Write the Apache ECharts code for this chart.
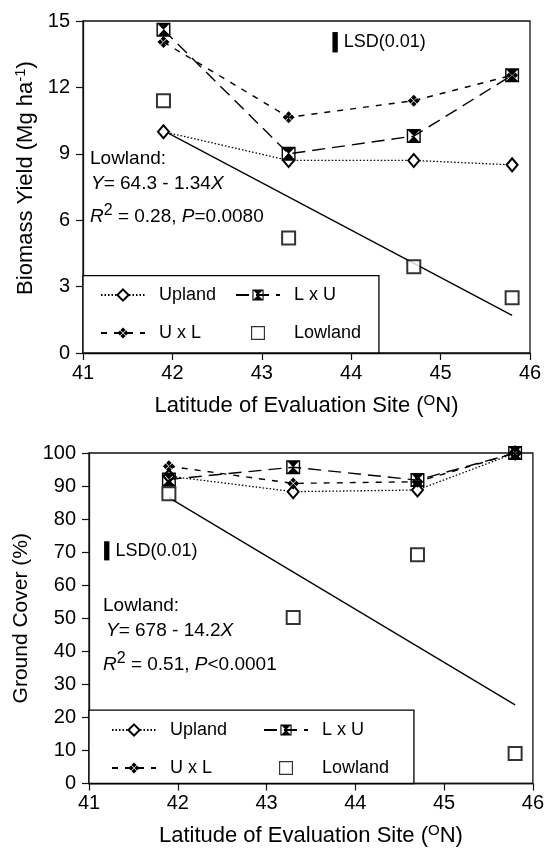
<!DOCTYPE html>
<html>
<head>
<meta charset="utf-8">
<script src="https://cdn.jsdelivr.net/npm/echarts@6/dist/echarts.min.js"></script>
<style>
  html, body { margin: 0; padding: 0; background: #fff; }
  #chart { width: 547px; height: 848px; }
</style>
</head>
<body>
<div id="chart"></div>
<script>
// site latitudes (deg N)
var lat = [41.9, 43.3, 44.7, 45.8];

// biomass yield (Mg/ha)
var yieldUpland = [10.0, 8.7, 8.7, 8.5];
var yieldLxU = [14.6, 9.0, 9.8, 12.55];
var yieldUxL = [14.05, 10.65, 11.4, 12.55];
var yieldLowland = [11.4, 5.2, 3.9, 2.5];
var yieldFitX = [41.9, 45.8];
var yieldFit = [10.05, 1.7];

// ground cover (%)
var coverUpland = [93, 88.3, 88.8, 100];
var coverLxU = [92, 95.7, 91.8, 100];
var coverUxL = [96, 90.8, 91.3, 100];
var coverLowland = [87.7, 50.2, 69.2, 9.1];
var coverFitX = [41.9, 45.8];
var coverFit = [86.5, 23.8];

var xTicks = [41, 46, 1];

var FONT = "'Liberation Sans', Arial, sans-serif";

function pairs(xs, ys) {
    return xs.map(function (x, i) { return [x, ys[i]]; });
}

var bowtie = 'path://M0,0 L10,0 L10,10 L0,10 Z M1,1 L1,9 L9,9 L9,1 Z M1,1 L9,1 L5,5 Z M1,9 L5,5 L9,9 Z';
var clover = 'path://M5,0 L7.3,2.3 L5,4.6 L2.7,2.3 Z M0,5 L2.3,2.7 L4.6,5 L2.3,7.3 Z M5.4,5 L7.7,2.7 L10,5 L7.7,7.3 Z M5,5.4 L7.3,7.7 L5,10 L2.7,7.7 Z';
var square = 'path://M0,0 L12,0 L12,12 L0,12 Z M1,1 L1,11 L11,11 L11,1 Z';

function makeSeries(idx, up, lxu, uxl, low, fitX, fit, boxTop, boxRight, lsd) {
    return [
        {
            name: 'Upland', type: 'line', xAxisIndex: idx, yAxisIndex: idx,
            data: pairs(lat, up), symbol: 'emptyDiamond', symbolSize: [11, 13],
            lineStyle: { color: '#000', width: 1.3, type: [1.5, 2] },
            itemStyle: { color: '#000', borderWidth: 1 }, z: 3
        },
        {
            name: 'L x U', type: 'line', xAxisIndex: idx, yAxisIndex: idx,
            data: pairs(lat, lxu), symbol: bowtie, symbolSize: 14,
            lineStyle: { color: '#000', width: 1.4, type: [13, 7] },
            itemStyle: { color: '#000' }, z: 4
        },
        {
            name: 'U x L', type: 'line', xAxisIndex: idx, yAxisIndex: idx,
            data: pairs(lat, uxl), symbol: clover, symbolSize: 12,
            lineStyle: { color: '#000', width: 1.4, type: [6, 7] },
            itemStyle: { color: '#000' }, z: 4
        },
        {
            name: 'Lowland', type: 'scatter', xAxisIndex: idx, yAxisIndex: idx,
            data: pairs(lat, low), symbol: 'emptyRect', symbolSize: 13,
            itemStyle: { color: '#000', borderWidth: 1.3 }, z: 3,
            markArea: {
                silent: true,
                data: [
                    [
                        { coord: [41, boxTop], itemStyle: { color: '#fff', borderColor: '#000', borderWidth: 1.3 } },
                        { coord: [boxRight, 0] }
                    ],
                    [
                        { coord: [lsd[0], lsd[1]], itemStyle: { color: '#000', borderWidth: 0 },
                          label: { show: true, position: 'right', distance: 6, formatter: 'LSD(0.01)',
                                   color: '#000', fontSize: 18, fontFamily: FONT } },
                        { coord: [lsd[2], lsd[3]] }
                    ]
                ]
            }
        },
        {
            name: 'fit', type: 'line', xAxisIndex: idx, yAxisIndex: idx,
            data: pairs(fitX, fit), symbol: 'none',
            lineStyle: { color: '#000', width: 1.3 }, z: 2
        }
    ];
}

function legendCol(left, top, names) {
    return {
        orient: 'vertical', left: left, top: top, padding: 0,
        data: names.map(function (n) { return n === 'Lowland' ? { name: n, icon: square } : n; }),
        itemWidth: 44, itemHeight: 14, itemGap: 20, symbolKeepAspect: true,
        textStyle: { color: '#000', fontSize: 18, fontFamily: FONT, padding: [0, 0, 0, 9] },
        selectedMode: false
    };
}

function xAxisOf(idx, gap, margin) {
    return {
        type: 'value', gridIndex: idx, min: xTicks[0], max: xTicks[1], interval: xTicks[2],
        name: '{a|Latitude of Evaluation Site (}{s|O}{a|N)}',
        nameLocation: 'middle', nameGap: gap,
        nameTextStyle: {
            rich: {
                a: { fontSize: 22, fontFamily: FONT, color: '#000' },
                s: { fontSize: 15, fontFamily: FONT, color: '#000', padding: [0, 0, 10, 0] }
            }
        },
        axisLine: { lineStyle: { color: '#111', width: 1.3 } },
        axisTick: { lineStyle: { color: '#111', width: 1.2 }, length: 7 },
        axisLabel: { color: '#000', fontSize: 20, fontFamily: FONT, margin: margin },
        splitLine: { show: false }
    };
}

function yAxisOf(idx, max, interval, name, gap, margin, pad, size) {
    return {
        type: 'value', gridIndex: idx, min: 0, max: max, interval: interval,
        name: name, nameLocation: 'middle', nameGap: gap,
        nameTextStyle: {
            padding: [0, 0, 0, pad],
            rich: {
                a: { fontSize: size, fontFamily: FONT, color: '#000' },
                s: { fontSize: 15, fontFamily: FONT, color: '#000', padding: [0, 0, 10, 0] }
            }
        },
        axisLine: { lineStyle: { color: '#111', width: 1.3 } },
        axisTick: { lineStyle: { color: '#111', width: 1.2 }, length: 7 },
        axisLabel: { color: '#000', fontSize: 20, fontFamily: FONT, margin: margin },
        splitLine: { show: false }
    };
}

var eqRich = {
    i: { fontStyle: 'italic', fontSize: 19, fontFamily: FONT, color: '#000' },
    n: { fontSize: 19, fontFamily: FONT, color: '#000' },
    s: { fontSize: 16, fontFamily: FONT, color: '#000', padding: [0, 0, 12, 0] }
};

function eqText(left, top, text) {
    return { type: 'text', left: left, top: top, style: { text: text, rich: eqRich } };
}

var chart = echarts.init(document.getElementById('chart'));

var option = {
    backgroundColor: '#fff',
    animation: false,
    grid: [
        { left: 83, top: 21, width: 447, height: 332, show: true, borderColor: '#111', borderWidth: 1.3 },
        { left: 89, top: 453, width: 446, height: 334, show: true, borderColor: '#111', borderWidth: 1.3 }
    ],
    xAxis: [xAxisOf(0, 40, 10), xAxisOf(1, 40, 10)],
    yAxis: [
        yAxisOf(0, 15, 3, '{a|Biomass Yield (Mg ha}{s|-1}{a|)}', 44, 13, 18, 22),
        yAxisOf(1, 100, 10, '{a|Ground Cover (%)}', 53, 13, 0, 21)
    ],
    legend: [
        legendCol(100, 286, ['Upland', 'U x L']),
        legendCol(235, 286, ['L x U', 'Lowland']),
        legendCol(111, 721, ['Upland', 'U x L']),
        legendCol(263, 721, ['L x U', 'Lowland'])
    ],
    graphic: [
        eqText(90, 149, '{n|Lowland:}'),
        eqText(91, 174, '{i|Y}{n|= 64.3 - 1.34}{i|X}'),
        eqText(90, 203, '{i|R}{s|2}{n| = 0.28, }{i|P}{n|=0.0080}'),
        eqText(103, 596, '{n|Lowland:}'),
        eqText(106, 621, '{i|Y}{n|= 678 - 14.2}{i|X}'),
        eqText(103, 651, '{i|R}{s|2}{n| = 0.51, }{i|P}{n|<0.0001}')
    ],
    series: [].concat(
        makeSeries(0, yieldUpland, yieldLxU, yieldUxL, yieldLowland, yieldFitX, yieldFit,
                   3.5, 44.31, [43.79, 14.5, 43.85, 13.58]),
        makeSeries(1, coverUpland, coverLxU, coverUxL, coverLowland, coverFitX, coverFit,
                   22.2, 44.66, [41.17, 73.3, 41.23, 67.5])
    )
};

chart.setOption(option);
</script>
</body>
</html>
